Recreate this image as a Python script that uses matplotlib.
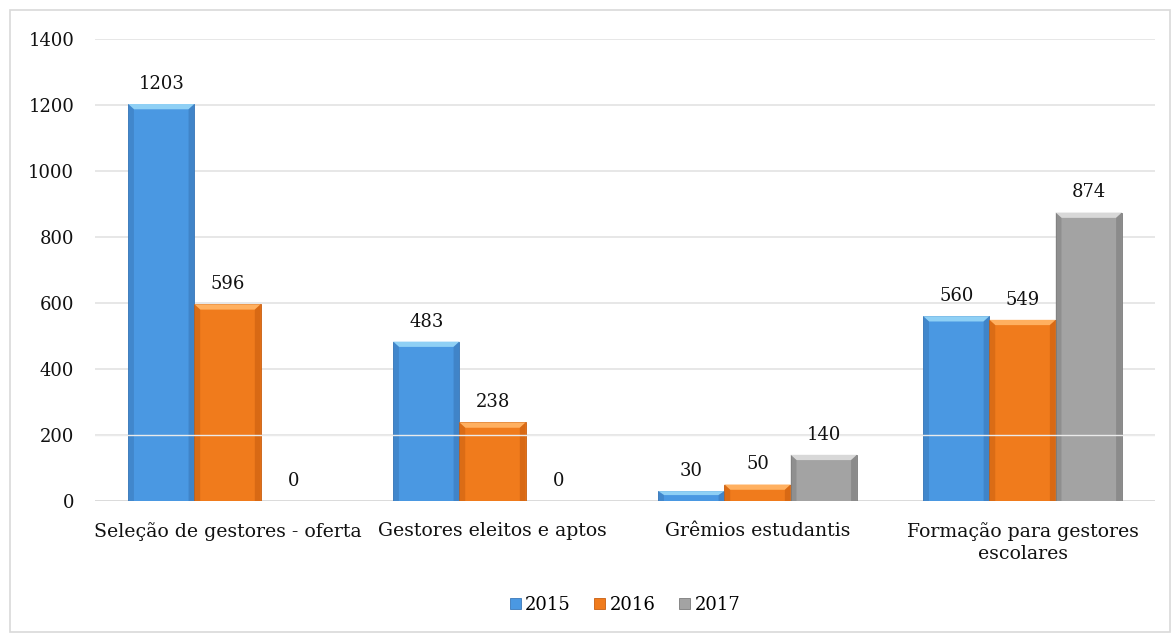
import matplotlib
matplotlib.use("Agg")
import matplotlib.pyplot as plt
from matplotlib.patches import Polygon, Rectangle
import numpy as np

categories = ["Seleção de gestores - oferta", "Gestores eleitos e aptos",
              "Grêmios estudantis", "Formação para gestores\nescolares"]
series_names = ["2015", "2016", "2017"]
values_2015 = [1203, 483, 30, 560]
values_2016 = [596, 238, 50, 549]
values_2017 = [0, 0, 140, 874]
yticks = [0, 200, 400, 600, 800, 1000, 1200, 1400]

colors = ["#4a98e2", "#f07b1c", "#a3a3a3"]
light = ["#8fd0f5", "#ffb060", "#d8d8d8"]
dark = ["#3a78b8", "#c85e10", "#7c7c7c"]

plt.rcParams['font.family'] = ['DejaVu Serif']

fig = plt.figure(figsize=(11.73, 6.35), dpi=100)
ax = fig.add_axes([0.081, 0.211, 0.9037, 0.7276])

x = np.arange(len(categories))
w = 0.25
all_vals = [values_2015, values_2016, values_2017]
handles = []
for i, (vals, name) in enumerate(zip(all_vals, series_names)):
    bars = ax.bar(x + (i - 1) * w, vals, width=w, color=colors[i], zorder=3,
                  edgecolor=dark[i], linewidth=0.6, label=name)
    handles.append(bars)
    for b, v in zip(bars, vals):
        bx, bw, bh = b.get_x(), b.get_width(), b.get_height()
        if bh > 0:
            dx = 0.022
            dy = min(16, bh / 2.5)
            ax.add_patch(Polygon([[bx, bh], [bx + bw, bh], [bx + bw - dx, bh - dy], [bx + dx, bh - dy]],
                                 closed=True, facecolor=light[i], edgecolor='none', zorder=4))
            ax.add_patch(Polygon([[bx, 0], [bx, bh], [bx + dx, bh - dy], [bx + dx, 0]],
                                 closed=True, facecolor=dark[i], edgecolor='none', alpha=0.5, zorder=4))
            ax.add_patch(Polygon([[bx + bw, 0], [bx + bw, bh], [bx + bw - dx, bh - dy], [bx + bw - dx, 0]],
                                 closed=True, facecolor=dark[i], edgecolor='none', alpha=0.6, zorder=4))
        ax.annotate(f"{v}", (bx + bw / 2, bh), xytext=(0, 8), textcoords='offset points',
                    ha='center', va='bottom', fontsize=13, color='#111111', zorder=6)

ax.set_xlim(-0.5, 3.5)
ax.set_ylim(0, 1400)
ax.set_yticks(yticks)
ax.set_yticklabels([str(t) for t in yticks], fontsize=13)
ax.set_xticks(x)
ax.set_xticklabels(categories, fontsize=13.6, linespacing=1.3)
ax.tick_params(axis='both', length=0, colors='#111111')
ax.tick_params(axis='x', pad=15)
ax.tick_params(axis='y', pad=15)
for s in ax.spines.values():
    s.set_visible(False)
ax.grid(axis='y', color='#e3e3e3', linewidth=1.2, zorder=0)
ax.axhline(0, color='#d9d9d9', linewidth=1.2, zorder=2)
ax.axhline(200, color='#eaeaea', linewidth=1.0, zorder=5)

leg = ax.legend(handles=handles, labels=series_names, loc='center',
                bbox_to_anchor=(0.5, -0.225), ncol=3, frameon=False, fontsize=13,
                handlelength=0.6, handleheight=0.6, handletextpad=0.25, columnspacing=1.3)

fig.add_artist(Rectangle((10 / 1173, 3 / 635), 1160 / 1173, 622 / 635, transform=fig.transFigure,
                         fill=False, edgecolor='#d9d9d9', linewidth=1.2))

fig.savefig("out.png", dpi=100)
